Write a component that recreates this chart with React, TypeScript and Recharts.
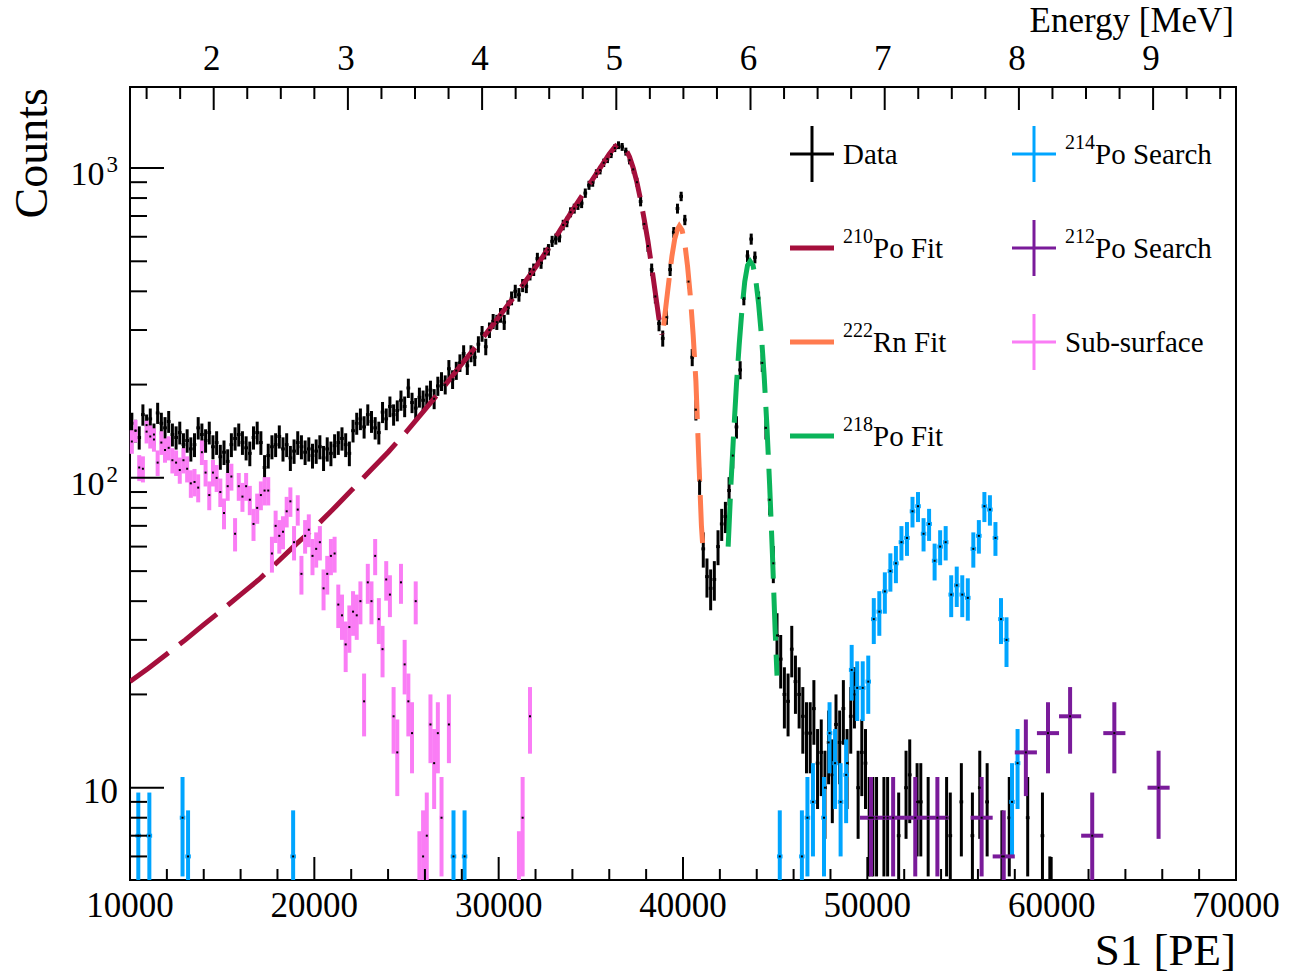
import React from "react";
import {
  ComposedChart, Scatter, Line, XAxis, YAxis, ErrorBar, ReferenceArea,
} from "recharts";

const FONT = '"Liberation Serif", "Times New Roman", serif';

// colours
const C_DATA = "#000000";
const C_PO210 = "#A50F3C";
const C_RN222 = "#FF7B4F";
const C_PO218 = "#0BB45A";
const C_PO214 = "#00A5FF";
const C_PO212 = "#7A1B9A";
const C_SUB = "#FA7DF5";

// ---- data: black histogram, 200 PE bins from 10000 to 50000
const dataCounts = [
  150, 142, 135, 160, 148, 155, 138, 162, 150, 145,
  152, 138, 135, 140, 128, 132, 124, 128, 145, 138,
  132, 140, 126, 130, 117, 121, 113, 128, 134, 138,
  130, 125, 120, 135, 140, 130, 108, 118, 126, 128,
  136, 124, 128, 116, 122, 130, 126, 121, 124, 118,
  122, 126, 116, 124, 120, 127, 130, 134, 128, 120,
  142, 150, 155, 146, 160, 152, 145, 140, 163, 155,
  170, 160, 165, 178, 170, 195, 175, 168, 182, 178,
  185, 192, 180, 198, 205, 200, 225, 208, 222, 235,
  252, 230, 252, 245, 270, 292, 265, 300, 320, 318,
  335, 318, 355, 380, 400, 390, 418, 415, 455, 470,
  510, 495, 530, 545, 580, 590, 600, 655, 670, 720,
  740, 760, 770, 830, 880, 900, 960, 985, 1040, 1070,
  1110, 1160, 1185, 1170, 1130, 1060, 990, 900, 780, 660,
  560, 470, 385, 315, 282, 330, 470, 620, 740, 810,
  680, 430, 245, 166, 98, 59, 48, 44, 47, 60,
  71, 75, 91, 118, 146, 223, 380, 520, 590, 515,
  380, 235, 145, 85, 53, 31, 26, 20, 19, 28,
  22, 20, 17, 15, 15, 18, 12, 13, 10, 14,
  11, 16, 14, 18, 12, 17, 20, 10, 13, 12,
];
// sparse tail of the black histogram (bins with visible error bars)
const dataTailS1 = [
  50100, 50300, 50500, 50900, 51100, 51700, 52100, 52300, 52700, 52900,
  53300, 54300, 54500, 55100, 55700, 56100, 56500, 57300, 57700, 58700,
  59500, 59900,
];
const dataTailCounts = [
  8, 8, 8, 8, 8, 7, 10, 11, 9, 9,
  8, 8, 7, 9, 7, 10, 9, 6, 8, 8,
  7, 4,
];

// ---- sub-surface, 200 PE bins from 10000
const subCounts = [
  131, 142, 108, 107, 141, 136, 133, 112, 130, 123,
  125, 114, 112, 106, 114, 107, 96, 97, 93, 121,
  104, 88, 104, 100, 90, 77, 94, 101, 66, 94,
  87, 94, 85, 71, 80, 88, 91, 91, 57, 70,
  65, 67, 78, 84, 62, 79, 49, 65, 68, 56,
  59, 62, 44, 49, 56, 57, 39, 36, 29, 33,
  37, 36, 40, 19, 46, 40, 56, 35, 28, 47,
  42, 17, 13, 46, 25, 19, 15, 40, 5, 6,
  7, 16, 12, 15, 8, null, 16,
];
const subTailS1 = [31100, 31300, 31700];
const subTailCounts = [5, 8, 17];

// ---- 214Po search, 300 PE bins
const po214S1 = [
  10450, 11050, 12850, 13150, 18850, 27550, 28150, 45250, 46450, 46750,
  47050, 47650, 47950, 48250, 48550, 48850, 49150, 49450, 49750, 50050,
  50350, 50650, 50950, 51250, 51550, 51850, 52150, 52450, 52750, 53050,
  53350, 53650, 53950, 54250, 54550, 54850, 55150, 55450, 55750, 56050,
  56350, 56650, 56950, 57250, 57550, 57850, 58150,
];
const po214Counts = [
  7, 7, 8, 6, 6, 6, 6, 6, 6, 8,
  9, 8, 15, 12, 9, 11, 24, 21, 21, 22,
  35, 37, 43, 50, 53, 62, 64, 78, 81, 66,
  71, 54, 60, 62, 42, 45, 42, 41, 59, 65,
  81, 79, 64, 35, 30, 9, 12,
];

// ---- 212Po search, 1200 PE bins
const po212S1 = [50200, 51400, 52600, 53800, 56200, 57400, 58600, 59800, 61000, 62200, 63400, 65800];
const po212Counts = [8, 8, 8, 8, 8, 6, 13, 15, 17, 7, 15, 10];

// ---- fit curves
const po210FitS1 = [
  10000, 11000, 12000, 13000, 14000, 15000, 16000, 17000, 18000, 19000,
  20000, 21000, 22000, 23000, 24000, 25000, 26000, 27000, 28000, 29000,
  30000, 31000, 32000, 33000, 34000, 35000, 35500, 36000, 36300, 36500,
  36700, 36900, 37100, 37300, 37500, 37700, 37900, 38100, 38300, 38500,
  38700, 38860,
];
const po210FitVal = [
  22, 24.3, 27, 30, 33.6, 37.5, 42, 47, 53.5, 61,
  69, 79, 91, 105, 121, 141, 166, 196, 233, 276,
  330, 396, 478, 585, 730, 900, 1000, 1110, 1170, 1200,
  1190, 1150, 1085, 1000, 900, 790, 680, 580, 480, 395,
  325, 290,
];
const rn222FitS1 = [
  38950, 39100, 39250, 39400, 39550, 39700, 39800, 39950, 40100, 40250,
  40400, 40550, 40700, 40850, 41000, 41100,
];
const rn222FitVal = [
  310, 370, 440, 520, 590, 635, 650, 630, 570, 480,
  385, 290, 205, 118, 70, 57,
];
const po218FitS1 = [
  42450, 42600, 42750, 42900, 43050, 43200, 43350, 43500, 43640, 43800,
  43950, 44100, 44250, 44400, 44550, 44700, 44850, 45000, 45100,
];
const po218FitVal = [
  60, 95, 140, 200, 270, 350, 430, 485, 500, 485,
  435, 365, 290, 215, 148, 95, 57, 32, 23,
];

// ---- axes
const energyLabels = [2, 3, 4, 5, 6, 7, 8, 9];
const s1Ticks = [];
for (let v = 10000; v <= 70000; v += 2000) s1Ticks.push(v);
const energyTicks = [];
for (let v = 1.5; v <= 9.5; v += 0.25) energyTicks.push(v);
const countTicks = [6, 7, 8, 9];
for (const d of [10, 100]) for (let k = 1; k <= 9; k++) countTicks.push(d * k);
countTicks.push(1000);

const S1_DOMAIN = [10000, 70000];
const E_DOMAIN = [1.3763, 9.6177];
const Y_DOMAIN = [5.036, 1826];
const Y_MIN = Y_DOMAIN[0];

type Pt = { x: number; y: number; ex: number; ey: number[] };

// poisson errors; the lower side is cut at the bottom of the frame
const point = (x: number, c: number, width: number): Pt => {
  const s = Math.sqrt(c);
  return { x, y: c, ex: c < Y_MIN ? 0 : width / 2, ey: [Math.min(s, c - Y_MIN), s] };
};
const fromBins = (start: number, width: number, counts: (number | null)[]): Pt[] =>
  counts.flatMap((c, i) => (c == null ? [] : [point(start + width * (i + 0.5), c, width)]));
const fromList = (xs: number[], counts: number[], width: number): Pt[] =>
  xs.map((x, i) => point(x, counts[i], width));
const curve = (xs: number[], ys: number[]) => xs.map((x, i) => ({ x, y: ys[i] }));

const dataPts = [...fromBins(10000, 200, dataCounts), ...fromList(dataTailS1, dataTailCounts, 200)];
const subPts = [...fromBins(10000, 200, subCounts), ...fromList(subTailS1, subTailCounts, 200)];
const po214Pts = fromList(po214S1, po214Counts, 300);
const po212Pts = fromList(po212S1, po212Counts, 1200);
const energyAnchor = energyLabels.map((e) => ({ x: e, y: 100 }));

const po210Fit = curve(po210FitS1, po210FitVal);
const rn222Fit = curve(rn222FitS1, rn222FitVal);
const po218Fit = curve(po218FitS1, po218FitVal);

const Dot = (p: any) =>
  p.payload && p.payload.y < Y_MIN ? <g /> : (
    <rect x={p.cx - 1} y={p.cy - 1} width={2} height={2} fill="#000" />
  );
const NoDot = () => <g />;

const S1Tick = (p: any) => {
  const v = p.payload.value;
  const major = v % 10000 === 0;
  return (
    <g>
      <line x1={p.x} x2={p.x} y1={p.y} y2={p.y - (major ? 23 : 11)} stroke="#000" strokeWidth={2} />
      {major && (
        <text x={p.x} y={p.y + 37} textAnchor="middle" fontSize={35} fontFamily={FONT} fill="#000">
          {v}
        </text>
      )}
    </g>
  );
};

const EnergyTick = (p: any) => {
  const v = p.payload.value;
  const major = Math.abs(v - Math.round(v)) < 1e-6;
  return (
    <g>
      <line x1={p.x} x2={p.x} y1={p.y} y2={p.y + (major ? 23 : 12)} stroke="#000" strokeWidth={2} />
      {major && (
        <text x={p.x - 2} y={p.y - 17} textAnchor="middle" fontSize={35} fontFamily={FONT} fill="#000">
          {Math.round(v)}
        </text>
      )}
    </g>
  );
};

const CountTick = (p: any) => {
  const v = p.payload.value;
  const exp = v === 10 ? 1 : v === 100 ? 2 : v === 1000 ? 3 : 0;
  return (
    <g>
      <line x1={p.x} x2={p.x + (exp ? 34 : 17)} y1={p.y} y2={p.y} stroke="#000" strokeWidth={2} />
      {exp === 1 && (
        <text x={p.x - 12} y={p.y + 15} textAnchor="end" fontSize={35} fontFamily={FONT} fill="#000">10</text>
      )}
      {exp > 1 && (
        <text x={p.x - 12} y={p.y + 17} textAnchor="end" fontSize={34} fontFamily={FONT} fill="#000">
          10<tspan dx={2} dy={-13} fontSize={23}>{exp}</tspan>
        </text>
      )}
    </g>
  );
};

type Entry = { sup?: string; label: string; color: string; kind: "err" | "fit" };
const legendLeft: Entry[] = [
  { label: "Data", color: C_DATA, kind: "err" },
  { sup: "210", label: "Po Fit", color: C_PO210, kind: "fit" },
  { sup: "222", label: "Rn Fit", color: C_RN222, kind: "fit" },
  { sup: "218", label: "Po Fit", color: C_PO218, kind: "fit" },
];
const legendRight: Entry[] = [
  { sup: "214", label: "Po Search", color: C_PO214, kind: "err" },
  { sup: "212", label: "Po Search", color: C_PO212, kind: "err" },
  { label: "Sub-surface", color: C_SUB, kind: "err" },
];
const ROWS = [154, 248, 342, 436];

function LegendColumn({ items, x0 }: { items: Entry[]; x0: number }) {
  return (
    <g>
      {items.map((it, i) => {
        const y = ROWS[i];
        const mid = x0 + 22;
        return (
          <g key={i}>
            {it.kind === "fit" ? (
              <line x1={x0} x2={x0 + 44} y1={y} y2={y} stroke={it.color} strokeWidth={5} />
            ) : (
              <g stroke={it.color} strokeWidth={3}>
                <line x1={x0} x2={x0 + 44} y1={y} y2={y} />
                <line x1={mid} x2={mid} y1={y - 28} y2={y + 28} />
              </g>
            )}
            <text x={x0 + 53} y={y + 10} fontSize={29} fontFamily={FONT} fill="#000">
              {it.sup && <tspan fontSize={20} dy={-15}>{it.sup}</tspan>}
              <tspan dy={it.sup ? 15 : 0}>{it.label}</tspan>
            </text>
          </g>
        );
      })}
    </g>
  );
}

export default function App() {
  const errProps = { width: 0, isAnimationActive: false } as any;
  return (
    <div style={{ position: "absolute", left: 0, top: 0, width: 1293, height: 974, background: "#fff", fontFamily: FONT }}>
      <ComposedChart width={1293} height={974} margin={{ top: 0, right: 57, bottom: 0, left: 0 }}>
        <XAxis
          xAxisId="s1" dataKey="x" type="number" orientation="bottom"
          domain={S1_DOMAIN} allowDataOverflow ticks={s1Ticks} interval={0}
          height={94} axisLine={false} tickLine={false} tickSize={0} tickMargin={0}
          tick={<S1Tick />}
        />
        <XAxis
          xAxisId="energy" dataKey="x" type="number" orientation="top"
          domain={E_DOMAIN} allowDataOverflow ticks={energyTicks} interval={0}
          height={87} axisLine={false} tickLine={false} tickSize={0} tickMargin={0}
          tick={<EnergyTick />}
        />
        <YAxis
          dataKey="y" type="number" scale="log"
          domain={Y_DOMAIN} allowDataOverflow ticks={countTicks} interval={0}
          width={130} axisLine={false} tickLine={false} tickSize={0} tickMargin={0}
          tick={<CountTick />}
        />
        <ReferenceArea
          xAxisId="s1" x1={S1_DOMAIN[0]} x2={S1_DOMAIN[1]} y1={Y_DOMAIN[0]} y2={Y_DOMAIN[1]}
          fill="none" stroke="#000" strokeWidth={2} ifOverflow="visible"
        />
        {/* carries the energy scale, draws nothing */}
        <Scatter xAxisId="energy" data={energyAnchor} shape={NoDot} isAnimationActive={false} legendType="none" />
        <Scatter xAxisId="s1" data={dataPts} shape={Dot} isAnimationActive={false}>
          <ErrorBar dataKey="ey" direction="y" stroke={C_DATA} strokeWidth={3} {...errProps} />
          <ErrorBar dataKey="ex" direction="x" stroke={C_DATA} strokeWidth={3} {...errProps} />
        </Scatter>
        <Line xAxisId="s1" data={po210Fit} dataKey="y" stroke={C_PO210} strokeWidth={5}
          strokeDasharray="48 14" dot={false} activeDot={false} isAnimationActive={false} />
        <Line xAxisId="s1" data={rn222Fit} dataKey="y" stroke={C_RN222} strokeWidth={5}
          strokeDasharray="48 14" dot={false} activeDot={false} isAnimationActive={false} />
        <Line xAxisId="s1" data={po218Fit} dataKey="y" stroke={C_PO218} strokeWidth={5}
          strokeDasharray="48 14" dot={false} activeDot={false} isAnimationActive={false} />
        <Scatter xAxisId="s1" data={po214Pts} shape={Dot} isAnimationActive={false}>
          <ErrorBar dataKey="ey" direction="y" stroke={C_PO214} strokeWidth={4} {...errProps} />
          <ErrorBar dataKey="ex" direction="x" stroke={C_PO214} strokeWidth={4} {...errProps} />
        </Scatter>
        <Scatter xAxisId="s1" data={po212Pts} shape={Dot} isAnimationActive={false}>
          <ErrorBar dataKey="ey" direction="y" stroke={C_PO212} strokeWidth={4} {...errProps} />
          <ErrorBar dataKey="ex" direction="x" stroke={C_PO212} strokeWidth={4} {...errProps} />
        </Scatter>
        <Scatter xAxisId="s1" data={subPts} shape={Dot} isAnimationActive={false}>
          <ErrorBar dataKey="ey" direction="y" stroke={C_SUB} strokeWidth={4} {...errProps} />
          <ErrorBar dataKey="ex" direction="x" stroke={C_SUB} strokeWidth={4} {...errProps} />
        </Scatter>
      </ComposedChart>
      <svg width={1293} height={974} style={{ position: "absolute", left: 0, top: 0, pointerEvents: "none" }}>
        <text transform="translate(47,88) rotate(-90)" textAnchor="end" fontSize={46} fontFamily={FONT} fill="#000">
          Counts
        </text>
        <text x={1236} y={965} textAnchor="end" fontSize={45} fontFamily={FONT} fill="#000">S1 [PE]</text>
        <text x={1234} y={32} textAnchor="end" fontSize={35} fontFamily={FONT} fill="#000">Energy [MeV]</text>
        <LegendColumn items={legendLeft} x0={790} />
        <LegendColumn items={legendRight} x0={1012} />
      </svg>
    </div>
  );
}
